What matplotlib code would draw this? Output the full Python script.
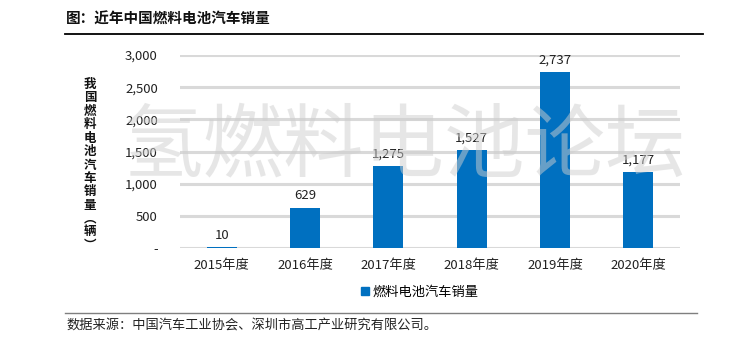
import matplotlib
matplotlib.use("Agg")
import matplotlib.pyplot as plt
from matplotlib.lines import Line2D
from matplotlib.patches import Patch

plt.rcParams['font.family'] = ['Noto Sans CJK SC', 'DejaVu Sans']

categories = ["2015年度", "2016年度", "2017年度", "2018年度", "2019年度", "2020年度"]
sales = [10, 629, 1275, 1527, 2737, 1177]
yticks = [0, 500, 1000, 1500, 2000, 2500, 3000]
ytick_labels = ["-", "500", "1,000", "1,500", "2,000", "2,500", "3,000"]
title = "图：近年中国燃料电池汽车销量"
ylabel = "我国燃料电池汽车销量︵辆︶"
legend_label = "燃料电池汽车销量"
source = "数据来源：中国汽车工业协会、深圳市高工产业研究有限公司。"
watermark = "氢燃料电池论坛"

W, H = 733, 344
fig = plt.figure(figsize=(W / 100, H / 100), dpi=100)
ax = fig.add_axes([180 / W, 1 - 248 / H, 500 / W, 193 / H])

bar_color = "#0070C0"
x = list(range(len(categories)))
ax.bar(x, sales, width=0.36, color=bar_color, zorder=3)
for xi, v in zip(x, sales):
    ax.annotate(f"{v:,}", (xi, v), xytext=(0, 4), textcoords="offset points",
                ha="center", va="bottom", fontsize=9.5, color="#222222", zorder=4)

ax.set_xlim(-0.5, len(categories) - 0.5)
ax.set_ylim(0, 3000)
ax.set_yticks(yticks)
ax.set_yticklabels(ytick_labels, fontsize=9.5, color="#222222")
ax.set_xticks(x)
ax.set_xticklabels(categories, fontsize=9.5, color="#222222")
ax.tick_params(axis="y", length=0, pad=16)
ax.tick_params(axis="x", length=0, pad=8)
ax.yaxis.grid(True, color="#D9D9D9", linewidth=2.2, zorder=0)
ax.set_axisbelow(True)
for s in ax.spines.values():
    s.set_visible(False)

# vertical stacked y label
fig.text(90 / W, 1 - 165 / H, "\n".join(ylabel), ha="center", va="center",
         fontsize=9, fontweight="bold", linespacing=1.04, color="#111111")

# title
fig.text(66 / W, 1 - 19 / H, title, ha="left", va="center", fontsize=10.5,
         fontweight="bold", color="#111111")
fig.add_artist(Line2D([65 / W, 703 / W], [1 - 33.5 / H, 1 - 33.5 / H],
                      color="black", linewidth=1.3))

# legend
fig.legend(handles=[Patch(color=bar_color, label=legend_label)],
           loc="center", bbox_to_anchor=(420 / W, 1 - 292 / H),
           frameon=False, fontsize=9.5, handlelength=0.6, handleheight=0.6,
           handletextpad=0.3)

# bottom line and source
fig.add_artist(Line2D([65 / W, 697 / W], [1 - 313 / H, 1 - 313 / H],
                      color="#7F7F7F", linewidth=1.0))
fig.text(66 / W, 1 - 326 / H, source, ha="left", va="center", fontsize=9.5,
         color="#222222")

# watermark
fig.text(404 / W, 1 - 147 / H, watermark, ha="center", va="center", fontsize=58,
         fontweight="light", color="#CFCFCF", alpha=0.5, zorder=10)

fig.savefig("out.png", dpi=100)
